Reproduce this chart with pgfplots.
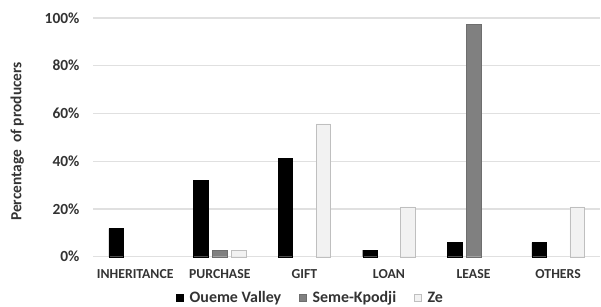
\documentclass[border=0pt]{standalone}
\usepackage{pgfplots}
\pgfplotsset{compat=1.18}
\usepackage{fontspec}
\setmainfont{Carlito}
\definecolor{oueme}{HTML}{000000}
\definecolor{seme}{HTML}{808080}
\definecolor{semeb}{HTML}{6E6E6E}
\definecolor{ze}{HTML}{F2F2F2}
\definecolor{zeb}{HTML}{BFBFBF}
\definecolor{gridc}{HTML}{E0E0E0}
\begin{document}
\begin{tikzpicture}
\begin{axis}[
  scale only axis,
  width=508bp, height=239bp,
  ymin=0, ymax=100,
  xmin=-0.5, xmax=5.5,
  xtick={0,1,2,3,4,5},
  xticklabels={INHERITANCE,PURCHASE,GIFT,LOAN,LEASE,OTHERS},
  ytick={0,20,40,60,80,100},
  yticklabels={0\%,20\%,40\%,60\%,80\%,100\%},
  ymajorgrids,
  grid style={gridc, line width=1.2pt},
  axis line style={draw=none},
  major tick length=0pt,
  tick label style={font=\fontsize{13.8}{13.8}\selectfont\bfseries, text=black!80},
  yticklabel style={font=\fontsize{15.5}{15.5}\selectfont\bfseries, xshift=-10bp},
  xticklabel style={yshift=-9bp},
  ylabel={Percentage\ \ of producers},
  ylabel style={font=\fontsize{15.5}{15.5}\selectfont\bfseries, text=black!80, yshift=14bp, xshift=-4bp},
  ybar=4.5bp,
  bar width=14.5bp,
  legend style={draw=none, fill=none, at={(0.429,-0.172)}, anchor=center,
    font=\fontsize{16}{16}\selectfont\bfseries, text=black!80,
    legend columns=3, /tikz/every even column/.append style={column sep=16bp},
    inner sep=0pt},
  legend image code/.code={\draw[#1] (0bp,-3.5bp) rectangle (7bp,3.5bp); \path (11bp,0bp);},
  clip=false,
]
\addplot[fill=oueme, draw=oueme] coordinates {(0,11.8) (1,32) (2,41.2) (3,2.8) (4,5.9) (5,5.9)};
\addplot[fill=seme, draw=semeb] coordinates {(1,2.7) (4,97.2)};
\addplot[fill=ze, draw=zeb] coordinates {(1,2.7) (2,55.6) (3,20.9) (5,20.9)};
\legend{Oueme Valley, Seme-Kpodji, Ze}
\end{axis}
\path (current axis.south west) ++(-93bp,-50bp) rectangle ++(601bp,307bp);
\end{tikzpicture}
\end{document}
